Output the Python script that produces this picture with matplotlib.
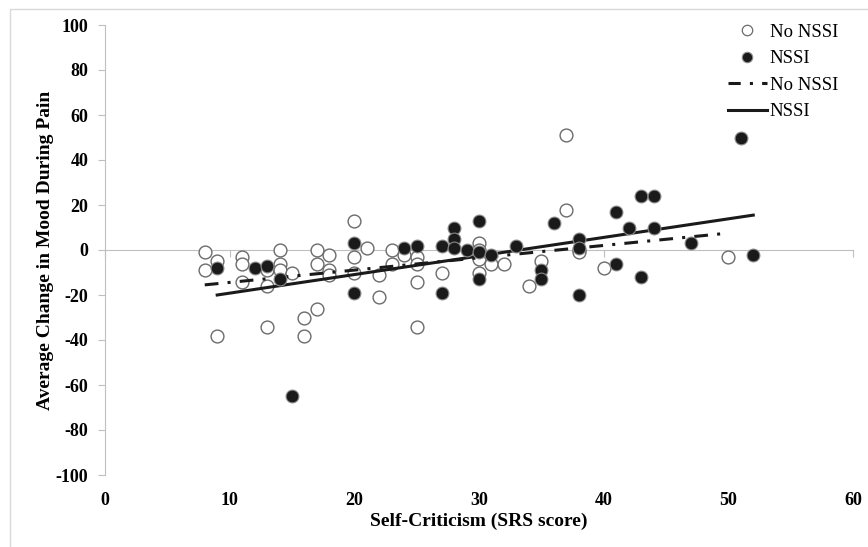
import matplotlib
matplotlib.use("Agg")
from matplotlib import pyplot as plt
from matplotlib.patches import Rectangle
from matplotlib.lines import Line2D

# No NSSI (open circles)
no_nssi_x = [8, 8, 9, 9, 11, 11, 11, 13, 13, 13, 14, 14, 14, 15, 16, 16, 17, 17, 17,
             18, 18, 18, 20, 20, 20, 21, 22, 22, 23, 23, 24, 25, 25, 25, 25, 27,
             30, 30, 30, 30, 31, 32, 34, 35, 37, 37, 38, 38, 40, 50]
no_nssi_y = [-1, -9, -5, -38, -3, -6, -14, -9, -16, -34, 0, -6, -9, -10, -30, -38, 0, -6, -26,
             -2, -9, -11, 13, -3, -10, 1, -11, -21, 0, -6, -2, -3, -6, -14, -34, -10,
             3, 0, -4, -10, -6, -6, -16, -5, 51, 18, 0, -1, -8, -3]

# NSSI (filled circles)
nssi_x = [9, 12, 13, 14, 15, 20, 20, 24, 25, 27, 27, 28, 28, 28, 29, 30, 30, 30, 31,
          33, 35, 35, 36, 38, 38, 38, 41, 41, 42, 43, 43, 44, 44, 47, 51, 52]
nssi_y = [-8, -8, -7, -13, -65, 3, -19, 1, 2, 2, -19, 10, 5, 1, 0, 13, -1, -13, -2,
          2, -9, -13, 12, 5, 1, -20, 17, -6, 10, 24, -12, 24, 10, 3, 50, -2]

# trend lines (end points)
trend_no_x = [8, 50]
trend_no_y = [-15.5, 7.5]
trend_nssi_x = [9, 52]
trend_nssi_y = [-20, 15.5]

x_ticks = [0, 10, 20, 30, 40, 50, 60]
y_ticks = [-100, -80, -60, -40, -20, 0, 20, 40, 60, 80, 100]

serif = ['Liberation Serif', 'DejaVu Serif']
grey = '#bfbfbf'

fig = plt.figure(figsize=(8.68, 5.47), dpi=100)
ax = fig.add_axes([105/868, 1-475/547, 748/868, 450/547])

# outer chart border
fig.patches.append(Rectangle((10/868, -0.1), 1.2, 1.1-9/547, transform=fig.transFigure,
                             fill=False, edgecolor='#d9d9d9', linewidth=1))

dash_dot = (0, (4.5, 3, 1, 3))
ax.plot(trend_no_x, trend_no_y, color='#1a1a1a', linewidth=2.2, linestyle=dash_dot, zorder=3)
ax.plot(trend_nssi_x, trend_nssi_y, color='#1a1a1a', linewidth=2.2, linestyle='-', zorder=3)

ax.scatter(no_nssi_x, no_nssi_y, s=85, facecolors='white', edgecolors='#6b6b6b',
           linewidths=1.0, zorder=2)
ax.scatter(nssi_x, nssi_y, s=85, facecolors='#1a1a1a', edgecolors='#8a8a8a',
           linewidths=0.8, zorder=4)

ax.set_xlim(0, 60)
ax.set_ylim(-100, 100)

for s in ['top', 'right']:
    ax.spines[s].set_visible(False)
ax.spines['left'].set_color(grey)
ax.spines['bottom'].set_position(('data', 0))
ax.spines['bottom'].set_color(grey)
ax.spines['bottom'].set_zorder(1)

ax.set_yticks(y_ticks)
ax.set_yticklabels([str(v) for v in y_ticks], fontfamily=serif, fontweight='bold', fontsize=13)
ax.tick_params(axis='y', direction='out', length=5, color=grey, pad=7)

ax.set_xticks(x_ticks)
ax.tick_params(axis='x', direction='out', length=5, color=grey, labelbottom=False)

sec = ax.secondary_xaxis(0)
sec.set_xticks(x_ticks)
sec.set_xticklabels([str(v) for v in x_ticks], fontfamily=serif, fontweight='bold', fontsize=13)
sec.tick_params(length=0, pad=12)
sec.spines['bottom'].set_visible(False)
sec.set_xlabel('Self-Criticism (SRS score)', fontfamily=serif, fontweight='bold',
               fontsize=14, labelpad=3)

ax.set_ylabel('Average Change in Mood During Pain', fontfamily=serif, fontweight='bold',
              fontsize=14, labelpad=1)

handles = [
    Line2D([], [], linestyle='none', marker='o', markersize=7.5, markerfacecolor='white',
           markeredgecolor='#6b6b6b', markeredgewidth=0.9),
    Line2D([], [], linestyle='none', marker='o', markersize=7.5, markerfacecolor='#1a1a1a',
           markeredgecolor='#8a8a8a', markeredgewidth=0.8),
    Line2D([], [], color='#1a1a1a', linewidth=2.2, linestyle=(0, (4, 3, 1, 3))),
    Line2D([], [], color='#1a1a1a', linewidth=2.2, linestyle='-'),
]
labels = ['No NSSI', 'NSSI', 'No NSSI', 'NSSI']
leg = fig.legend(handles, labels, loc='upper left', bbox_to_anchor=(720/868, 1-16/547),
                 frameon=False, handlelength=2.1, handletextpad=0.15, labelspacing=0.5,
                 borderaxespad=0, prop={'family': serif, 'size': 13.5})

fig.savefig('out.png', dpi=100)
